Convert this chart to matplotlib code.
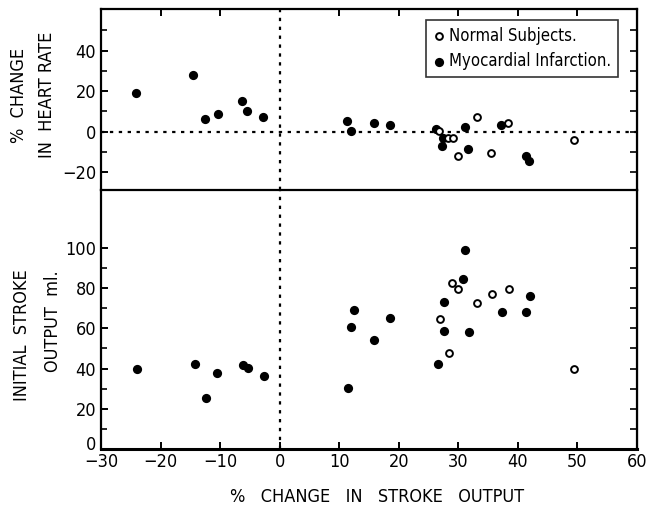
import matplotlib

matplotlib.use("Agg")

import matplotlib.pyplot as plt
from matplotlib.transforms import ScaledTranslation

plt.rcParams["font.family"] = ["DejaVu Sans"]
plt.rcParams["font.stretch"] = "condensed"

# % change in stroke output vs % change in heart rate
mi_hr_x = [-24.2, -14.5, -12.5, -10.4, -6.4, -5.5, -2.8, 11.3, 12.0, 15.9,
           18.5, 26.3, 27.5, 27.3, 31.1, 31.7, 37.2, 41.3, 41.9]
mi_hr_y = [19.3, 27.9, 6.3, 9.0, 15.3, 10.1, 7.2, 5.4, 0.4, 4.1,
           3.1, 1.4, -3.1, -6.9, 2.1, -8.5, 3.1, -11.8, -14.4]
normal_hr_x = [26.8, 28.2, 29.1, 29.9, 33.1, 35.4, 38.4, 49.4]
normal_hr_y = [0.2, -3.0, -3.0, -12.2, 7.1, -10.6, 4.4, -3.9]

# % change in stroke output vs initial stroke output (ml.)
mi_so_x = [-23.9, -14.3, -12.3, -10.5, -6.2, -5.4, -2.7, 11.4, 11.9, 12.4,
           15.9, 18.5, 26.5, 27.6, 27.6, 30.7, 31.1, 31.8, 37.4, 41.4, 42.0]
mi_so_y = [40.0, 42.4, 25.4, 37.8, 41.7, 40.5, 36.5, 30.3, 60.4, 69.3,
           54.4, 65.3, 42.2, 73.3, 58.8, 84.7, 99.0, 58.0, 68.1, 68.2, 76.0]
normal_so_x = [27.0, 28.4, 29.0, 29.9, 33.2, 35.6, 38.5, 49.4]
normal_so_y = [64.6, 47.6, 82.6, 79.7, 72.4, 76.8, 79.4, 39.9]

x_ticks = [-30, -20, -10, 0, 10, 20, 30, 40, 50, 60]
hr_ticks = [-20, 0, 20, 40]
so_ticks = [0, 20, 40, 60, 80, 100]

fig = plt.figure(figsize=(6.52, 5.12), dpi=100)
left, right = 0.155, 0.977
ax_top = fig.add_axes([left, 0.628, right - left, 0.982 - 0.628])
ax_bot = fig.add_axes([left, 0.123, right - left, 0.628 - 0.123])

dot_style = dict(color="black", linewidth=1.6, linestyle=(0, (1.5, 2.5)))
filled = dict(marker="o", s=44, color="black", linewidths=0, zorder=3)
hollow = dict(marker="o", s=24, facecolors="white", edgecolors="black",
              linewidths=1.4, zorder=3)

for ax in (ax_top, ax_bot):
    ax.set_xlim(-30, 60)
    ax.axvline(0, **dot_style)
    for side in ax.spines.values():
        side.set_linewidth(1.6)
    ax.tick_params(direction="in", length=5, width=1.4, labelsize=13)

# top panel
ax_top.scatter(mi_hr_x, mi_hr_y, label="Myocardial Infarction.", **filled)
ax_top.scatter(normal_hr_x, normal_hr_y, label="Normal Subjects.", **hollow)
ax_top.axhline(0, **dot_style)
ax_top.set_ylim(-29, 60.5)
ax_top.set_yticks(hr_ticks)
ax_top.set_yticks(range(-20, 60, 10), minor=True)
ax_top.set_xticks([t for t in range(-20, 60, 10) if t != 0])
ax_top.tick_params(which="both", top=True, bottom=False, labelbottom=False,
                   direction="in")
ax_top.tick_params(which="minor", length=4, width=1.2)
ax_top.spines["bottom"].set_visible(False)
rt = ax_top.secondary_yaxis("right")
rt.set_yticks(range(-20, 60, 10))
rt.tick_params(direction="in", length=5, width=1.2, labelright=False)

handles, labels = ax_top.get_legend_handles_labels()
leg = ax_top.legend(handles[::-1], labels[::-1], loc="upper right",
                    bbox_to_anchor=(0.965, 0.94), fontsize=12,
                    frameon=True, fancybox=False, edgecolor="black",
                    handletextpad=0.2, handlelength=0.8, borderpad=0.4,
                    labelspacing=0.45, borderaxespad=0)
leg.get_frame().set_linewidth(1.2)

# bottom panel
ax_bot.scatter(mi_so_x, mi_so_y, **filled)
ax_bot.scatter(normal_so_x, normal_so_y, **hollow)
ax_bot.set_ylim(0, 128.5)
ax_bot.set_yticks(so_ticks)
ax_bot.set_yticks(range(0, 110, 10), minor=True)
ax_bot.set_xticks(x_ticks)
ax_bot.tick_params(which="minor", length=4, width=1.2, direction="in")
ax_bot.tick_params(axis="x", pad=3)
ax_bot.spines["bottom"].set_linewidth(2.2)
rb = ax_bot.secondary_yaxis("right")
rb.set_yticks(range(10, 110, 10))
rb.tick_params(direction="in", length=5, width=1.2, labelright=False)

# the "0" of the y scale sits just above the "-30" of the x scale
zero_label = ax_bot.get_yticklabels()[0]
zero_label.set_transform(zero_label.get_transform()
                         + ScaledTranslation(0, 4 / 72, fig.dpi_scale_trans))

fig.text(0.0285, 0.814, "%  CHANGE", rotation=90, ha="center", va="center",
         fontsize=13)
fig.text(0.072, 0.814, "IN  HEART RATE", rotation=90, ha="center",
         va="center", fontsize=13)
fig.text(0.034, 0.346, "INITIAL  STROKE", rotation=90, ha="center",
         va="center", fontsize=13)
fig.text(0.082, 0.373, "OUTPUT  ml.", rotation=90, ha="center",
         va="center", fontsize=13)
fig.text(0.578, 0.029, "%   CHANGE   IN   STROKE   OUTPUT", ha="center",
         va="center", fontsize=13)

fig.savefig("out.png", dpi=100)
